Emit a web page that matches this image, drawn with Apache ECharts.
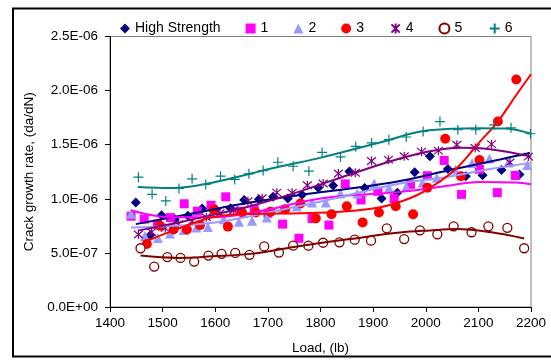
<!DOCTYPE html>
<html><head><meta charset="utf-8">
<script src="https://cdn.jsdelivr.net/npm/echarts@6/dist/echarts.min.js"></script>
<style>html,body{margin:0;padding:0;background:#fff}#c{width:551px;height:360px}</style>
</head><body><div id="c"></div>
<script>
// values in units of 1e-6 (da/dN)
const SCALE = 1e-6;
const seriesNames = ['High Strength','1','2','3','4','5','6'];
const xTicks = [1400,1500,1600,1700,1800,1900,2000,2100,2200];

const highStrength = [[1449,0.965],[1476,0.661],[1498,0.849],[1523,0.812],[1548,0.844],[1575,0.910],[1601,0.904],[1629,0.913],[1655,0.989],[1683,0.995],[1710,1.020],[1738,1.002],[1765,1.037],[1796,1.103],[1824,1.124],[1855,1.252],[1884,1.099],[1916,1.002],[1946,1.057],[1979,1.246],[2008,1.393],[2042,1.275],[2076,1.209],[2108,1.218],[2144,1.266],[2178,1.225]];
const s1 = [[1440,0.839],[1465,0.812],[1490,0.766],[1515,0.826],[1541,0.954],[1566,0.885],[1592,0.940],[1620,1.018],[1647,0.885],[1674,0.904],[1700,0.867],[1728,0.766],[1759,0.635],[1784,0.818],[1816,0.757],[1847,1.138],[1877,0.989],[1909,1.069],[1940,1.002],[1971,1.133],[2003,1.213],[2035,1.355],[2068,1.041],[2102,1.273],[2136,1.057],[2170,1.216]];
const s2 = [[1440,0.862],[1466,0.656],[1491,0.638],[1514,0.679],[1540,0.711],[1564,0.734],[1586,0.739],[1616,0.812],[1645,0.789],[1670,0.796],[1698,0.828],[1727,0.904],[1755,0.928],[1784,0.965],[1810,0.965],[1838,1.048],[1870,1.048],[1902,1.142],[1930,1.103],[1963,1.112],[1994,1.151],[2021,1.194],[2056,1.271],[2088,1.332],[2121,1.372],[2157,1.335],[2193,1.312]];
const s3 = [[1470,0.583],[1495,0.750],[1521,0.716],[1546,0.716],[1571,0.757],[1597,0.899],[1624,0.743],[1651,0.873],[1677,0.873],[1705,0.881],[1733,0.904],[1762,0.956],[1791,0.819],[1821,0.858],[1850,0.931],[1880,0.782],[1911,0.873],[1943,0.931],[1976,0.858],[2003,1.103],[2037,1.555],[2067,1.209],[2102,1.358],[2137,1.714],[2172,2.103]];
const s4 = [[1454,0.670],[1479,0.693],[1505,0.729],[1530,0.766],[1556,0.794],[1583,0.830],[1609,0.867],[1635,0.894],[1662,0.977],[1689,1.005],[1717,1.057],[1746,1.055],[1775,1.126],[1805,1.142],[1834,1.234],[1866,1.240],[1897,1.349],[1929,1.362],[1959,1.393],[1992,1.436],[2024,1.445],[2059,1.500],[2094,1.470],[2125,1.505],[2160,1.335],[2195,1.390]];
const s5 = [[1458,0.543],[1484,0.374],[1509,0.461],[1534,0.454],[1560,0.420],[1587,0.475],[1612,0.491],[1638,0.500],[1665,0.482],[1693,0.560],[1721,0.503],[1748,0.567],[1777,0.567],[1805,0.594],[1836,0.598],[1865,0.622],[1896,0.613],[1926,0.727],[1959,0.628],[1989,0.709],[2022,0.672],[2053,0.746],[2087,0.691],[2119,0.746],[2155,0.732],[2187,0.543]];
const s6 = [[1454,1.200],[1480,1.041],[1506,0.980],[1531,1.096],[1556,1.185],[1582,1.133],[1610,1.209],[1637,1.179],[1664,1.231],[1691,1.261],[1719,1.338],[1748,1.301],[1778,1.255],[1803,1.429],[1838,1.387],[1867,1.484],[1897,1.516],[1930,1.546],[1963,1.571],[1995,1.622],[2027,1.714],[2061,1.638],[2095,1.638],[2130,1.683],[2162,1.656],[2199,1.601]];

// trendlines
const trendHS = [[1449,0.766],[1571,0.878],[1666,0.965],[1799,1.060],[1856,1.095],[1951,1.165],[2046,1.266],[2141,1.364],[2198,1.424]];
const trend1 = [[1440,0.894],[1514,0.830],[1594,0.830],[1685,0.885],[1803,1.005],[1951,1.064],[2046,1.124],[2103,1.156],[2170,1.151],[2200,1.135]];
const trend2 = [[1440,0.734],[1514,0.748],[1600,0.780],[1685,0.858],[1803,0.977],[1951,1.142],[2046,1.206],[2122,1.275],[2198,1.332]];
const trend3 = [[1470,0.610],[1533,0.729],[1600,0.835],[1685,0.862],[1761,0.867],[1837,0.881],[1913,0.922],[1970,1.005],[2008,1.101],[2056,1.271],[2103,1.528],[2137,1.714],[2172,1.959],[2200,2.151]];
const trend4 = [[1453,0.706],[1533,0.784],[1594,0.849],[1666,0.931],[1761,1.069],[1856,1.225],[1951,1.372],[2008,1.440],[2065,1.472],[2122,1.459],[2200,1.390]];
const trend5 = [[1458,0.475],[1529,0.454],[1594,0.468],[1666,0.491],[1761,0.564],[1856,0.628],[1951,0.688],[2008,0.708],[2059,0.720],[2122,0.693],[2187,0.633]];
const trend6 = [[1453,1.108],[1518,1.099],[1594,1.149],[1717,1.292],[1803,1.383],[1913,1.521],[2006,1.633],[2101,1.653],[2151,1.650],[2200,1.601]];

const colors = ['#000080','#FF00FF','#9999FF','#FF0000','#800080','#800000','#008080'];
const pointSets = [highStrength,s1,s2,s3,s4,s5,s6];
const trendSets = [trendHS,trend1,trend2,trend3,trend4,trend5,trend6];
const FONT = "'Liberation Sans', Arial, sans-serif";

const scaleData = d => d.map(p => [p[0], p[1]*SCALE]);
const asterisk = 'path://M0,0L10,10M10,0L0,10M5,-1L5,11';
const plus = 'path://M5,0L5,10M0,5L10,5';

const markerDefs = [
  {symbol:'diamond', size:10, style:{color:colors[0], opacity:1}},
  {symbol:'rect', size:9, style:{color:colors[1], opacity:1}},
  {symbol:'triangle', size:10, style:{color:colors[2], opacity:1}},
  {symbol:'circle', size:10, style:{color:colors[3], opacity:1}},
  {symbol:asterisk, size:9, style:{color:'none', borderColor:colors[4], borderWidth:1.2, opacity:1}},
  {symbol:'circle', size:9, style:{color:'#fff', borderColor:colors[5], borderWidth:1.3, opacity:1}},
  {symbol:plus, size:10, style:{color:'none', borderColor:colors[6], borderWidth:1.2, opacity:1}}
];

function fmtY(v){
  if (Math.abs(v) < 1e-15) return '0.0E+00';
  const s = v.toExponential(1);
  const parts = s.split('e');
  const e = parseInt(parts[1],10);
  const d = Math.abs(e);
  return parts[0] + 'E' + (e<0?'-':'+') + (d<10?'0'+d:d);
}

const series = [];
pointSets.forEach((pts,i) => {
  series.push({
    name: seriesNames[i], type:'scatter', data: scaleData(pts),
    symbol: markerDefs[i].symbol, symbolSize: markerDefs[i].size,
    itemStyle: markerDefs[i].style, z: 2 + i, silent: true
  });
});
trendSets.forEach((pts,i) => {
  series.push({
    name: 'trend'+i, type:'line', data: scaleData(pts), smooth: 0.4,
    showSymbol:false, symbol:'none', lineStyle:{color:colors[i], width:2},
    z: 20, silent: true
  });
});

const chart = echarts.init(document.getElementById('c'), null, {renderer:'canvas'});
chart.setOption({
  animation:false,
  backgroundColor:'#fff',
  textStyle:{fontFamily:FONT},
  graphic:[{type:'rect', shape:{x:13,y:8.5,width:560,height:348}, style:{fill:'none', stroke:'#000', lineWidth:2}, silent:true, z:100}],
  legend:{
    data: seriesNames, left:115, top:16, itemWidth:10, itemHeight:10, itemGap:25,
    textStyle:{fontSize:14, color:'#000', fontFamily:FONT}
  },
  grid:{left:110, right:20, top:36.5, bottom:51.5, show:true, borderColor:'#808080', borderWidth:1, backgroundColor:'#fff'},
  xAxis:{
    type:'value', min:xTicks[0], max:xTicks[xTicks.length-1], interval:100,
    name:'Load, (lb)', nameLocation:'middle', nameGap:34,
    nameTextStyle:{fontSize:13.5, color:'#000', fontFamily:FONT},
    axisLine:{lineStyle:{color:'#000', width:1}},
    axisTick:{show:true, inside:false, length:5, lineStyle:{color:'#000'}},
    axisLabel:{fontSize:13.5, color:'#000', margin:9, fontFamily:FONT, formatter: v => String(v)},
    splitLine:{show:false}
  },
  yAxis:{
    type:'value', min:0, max:2.5e-6, interval:5e-7,
    name:'Crack growth rate, (da/dN)', nameLocation:'middle', nameGap:74,
    nameTextStyle:{fontSize:13.5, color:'#000', fontFamily:FONT},
    axisLine:{show:true, lineStyle:{color:'#000', width:1}},
    axisTick:{show:true, inside:false, length:5, lineStyle:{color:'#000'}},
    axisLabel:{fontSize:13.5, color:'#000', margin:12, formatter:fmtY, fontFamily:FONT},
    splitLine:{show:false}
  },
  series: series
});
</script></body></html>
